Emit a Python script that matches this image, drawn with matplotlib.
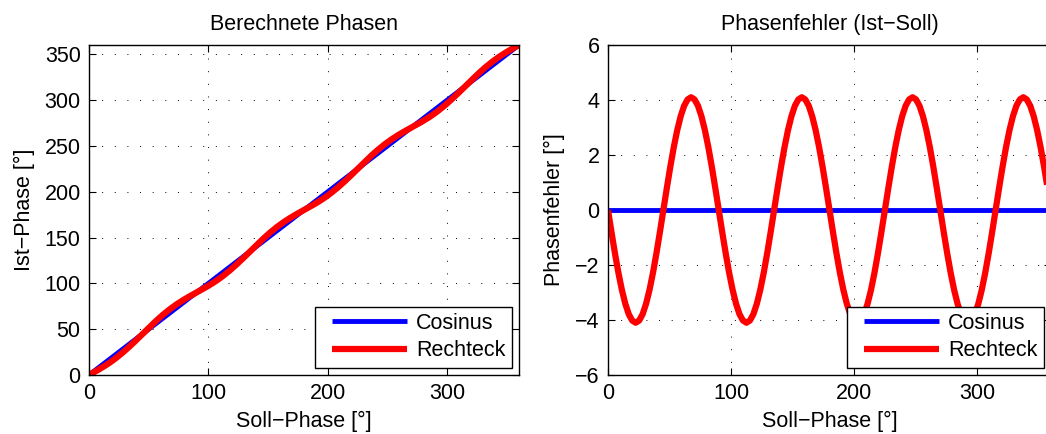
#!/usr/bin/env python3

import numpy as np
import matplotlib.pyplot as plt
from matplotlib.legend_handler import HandlerLine2D

plt.rcParams['font.family'] = ['Liberation Sans', 'DejaVu Sans']
plt.rcParams['font.size'] = 15.5

# Soll-Phase in Grad, 129 Stuetzpunkte
soll_phase = np.linspace(0, 360, 129)

fehler_cosinus = [0.0] * 129
fehler_rechteck = [
    0.00, -0.80, -1.57, -2.28, -2.90, -3.41, -3.79, -4.02,
    -4.10, -4.02, -3.79, -3.41, -2.90, -2.28, -1.57, -0.80,
    0.00, 0.80, 1.57, 2.28, 2.90, 3.41, 3.79, 4.02,
    4.10, 4.02, 3.79, 3.41, 2.90, 2.28, 1.57, 0.80,
    0.00, -0.80, -1.57, -2.28, -2.90, -3.41, -3.79, -4.02,
    -4.10, -4.02, -3.79, -3.41, -2.90, -2.28, -1.57, -0.80,
    0.00, 0.80, 1.57, 2.28, 2.90, 3.41, 3.79, 4.02,
    4.10, 4.02, 3.79, 3.41, 2.90, 2.28, 1.57, 0.80,
    0.00, -0.80, -1.57, -2.28, -2.90, -3.41, -3.79, -4.02,
    -4.10, -4.02, -3.79, -3.41, -2.90, -2.28, -1.57, -0.80,
    0.00, 0.80, 1.57, 2.28, 2.90, 3.41, 3.79, 4.02,
    4.10, 4.02, 3.79, 3.41, 2.90, 2.28, 1.57, 0.80,
    0.00, -0.80, -1.57, -2.28, -2.90, -3.41, -3.79, -4.02,
    -4.10, -4.02, -3.79, -3.41, -2.90, -2.28, -1.57, -0.80,
    0.00, 0.80, 1.57, 2.28, 2.90, 3.41, 3.79, 4.02,
    4.10, 4.02, 3.79, 3.41, 2.90, 2.28, 1.57, 0.80,
    0.00,
]

ist_cosinus = soll_phase + np.array(fehler_cosinus)
ist_rechteck = soll_phase + np.array(fehler_rechteck)

labels = ["Cosinus", "Rechteck"]
colors = ["#0000ff", "#ff0000"]
widths = [3.5, 4.5]


class PaddedLine(HandlerLine2D):
    # Legendenlinie etwas nach rechts einruecken (wie MATLAB)
    def create_artists(self, legend, orig_handle, xdescent, ydescent,
                       width, height, fontsize, trans):
        arts = super().create_artists(legend, orig_handle, xdescent, ydescent,
                                      width, height, fontsize, trans)
        for a in arts:
            x = np.asarray(a.get_xdata(), dtype=float)
            if len(x) > 1:
                x = x.copy()
                x[0] += 7.5
                a.set_xdata(x)
        return arts


def style(ax):
    ax.tick_params(direction="in", length=5, top=True, right=True, width=0.8, pad=6)
    for s in ax.spines.values():
        s.set_linewidth(1.0)
    ax.grid(True, color="black", linestyle=(0, (1, 12)), linewidth=0.7)
    leg = ax.legend(loc="lower right", borderaxespad=0.33,
                    fancybox=False, edgecolor="black", framealpha=1,
                    handlelength=4.0, handletextpad=0.4, labelspacing=0.3,
                    borderpad=0.3, handler_map={plt.Line2D: PaddedLine()})
    leg.get_frame().set_linewidth(1.0)


fig = plt.figure(figsize=(10.46, 4.34), dpi=100)
ax1 = fig.add_axes([89 / 1046, 59 / 434, 430 / 1046, 330 / 434])
ax2 = fig.add_axes([608 / 1046, 59 / 434, 443 / 1046, 330 / 434])

for ax, ys in [(ax1, [ist_cosinus, ist_rechteck]),
               (ax2, [fehler_cosinus, fehler_rechteck])]:
    for y, c, w, lab in zip(ys, colors, widths, labels):
        ax.plot(soll_phase, y, color=c, lw=w, label=lab,
                solid_joinstyle="round", solid_capstyle="butt")

ax1.set_xlim(0, 360)
ax1.set_ylim(0, 360)
ax1.set_xticks([0, 100, 200, 300])
ax1.set_yticks(range(0, 351, 50))
ax1.set_title("Berechnete Phasen", fontsize=15.5, pad=11)
ax1.set_xlabel("Soll\u2212Phase [°]", labelpad=5)
ax1.set_ylabel("Ist\u2212Phase [°]", labelpad=7)
style(ax1)

ax2.set_xlim(0, 360)
ax2.set_ylim(-6, 6)
ax2.set_xticks([0, 100, 200, 300])
ax2.set_yticks(range(-6, 7, 2))
ax2.set_title("Phasenfehler (Ist\u2212Soll)", fontsize=15.5, pad=11)
ax2.set_xlabel("Soll\u2212Phase [°]", labelpad=5)
ax2.set_ylabel("Phasenfehler [°]", labelpad=7)
style(ax2)

fig.savefig("out.png", dpi=100)
plt.close(fig)
